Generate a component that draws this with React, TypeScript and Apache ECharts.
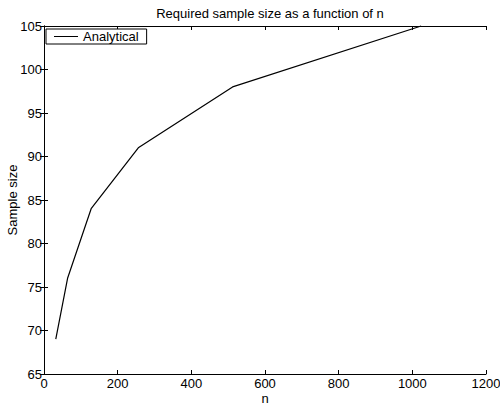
import React, { useEffect, useRef } from "react";
import * as echarts from "echarts";

const nValues = [32, 64, 128, 256, 512, 1024];
const sampleSizes = [69, 76, 84, 91, 98, 105];
const seriesName = "Analytical";
const titleText = "Required sample size as a function of n";

export default function App() {
  const ref = useRef<HTMLDivElement>(null);
  useEffect(() => {
    const chart = echarts.init(ref.current!, null, { renderer: "svg" });
    const font = "Liberation Sans, Arial, Helvetica, sans-serif";
    const axisCommon = {
      axisLine: { show: true, lineStyle: { color: "#000", width: 1 } },
      axisTick: { show: true, inside: true, length: 4, lineStyle: { color: "#000" } },
      splitLine: { show: false },
    };
    chart.setOption({
      animation: false,
      backgroundColor: "#fff",
      title: {
        text: titleText,
        left: 265,
        textAlign: "center",
        top: 2,
        textStyle: { fontFamily: font, fontSize: 13, fontWeight: "normal", color: "#000" },
      },
      legend: {
        data: [seriesName],
        left: 46,
        top: 29,
        orient: "vertical",
        borderColor: "#000",
        borderWidth: 1,
        padding: [1, 8, 1, 8],
        itemWidth: 24,
        itemHeight: 1,
        itemGap: 0,
        icon: "rect",
        textStyle: { fontFamily: font, fontSize: 13, color: "#000" },
        backgroundColor: "#fff",
      },
      grid: { left: 44, right: 14, top: 26, bottom: 34, containLabel: false, outerBoundsMode: "none" },
      xAxis: [
        {
          type: "value",
          min: 0,
          max: 1200,
          interval: 200,
          name: "n",
          nameLocation: "middle",
          nameGap: 18,
          nameMoveOverlap: false,
          nameTextStyle: { fontFamily: font, fontSize: 13, color: "#000", lineHeight: 13 },
          axisLabel: { fontFamily: font, fontSize: 13, color: "#000", margin: 3, lineHeight: 13, formatter: (v: number) => String(v) },
          ...axisCommon,
        },
        {
          type: "value",
          position: "top",
          min: 0,
          max: 1200,
          interval: 200,
          axisLabel: { show: false },
          ...axisCommon,
        },
      ],
      yAxis: [
        {
          type: "value",
          min: 65,
          max: 105,
          interval: 5,
          name: "Sample size",
          nameLocation: "middle",
          nameGap: 25,
          nameMoveOverlap: false,
          nameTextStyle: { fontFamily: font, fontSize: 13, color: "#000" },
          axisLabel: { fontFamily: font, fontSize: 13, color: "#000", margin: 2, formatter: (v: number) => String(v) },
          ...axisCommon,
        },
        {
          type: "value",
          position: "right",
          min: 65,
          max: 105,
          interval: 5,
          axisLabel: { show: false },
          ...axisCommon,
        },
      ],
      series: [
        {
          name: seriesName,
          type: "line",
          data: nValues.map((n, i) => [n, sampleSizes[i]]),
          showSymbol: false,
          lineStyle: { color: "#000", width: 1.2 },
          itemStyle: { color: "#000" },
          clip: false,
        },
      ],
    });
    return () => chart.dispose();
  }, []);
  return <div ref={ref} style={{ width: 500, height: 408, position: "absolute", left: 0, top: 0 }} />;
}
